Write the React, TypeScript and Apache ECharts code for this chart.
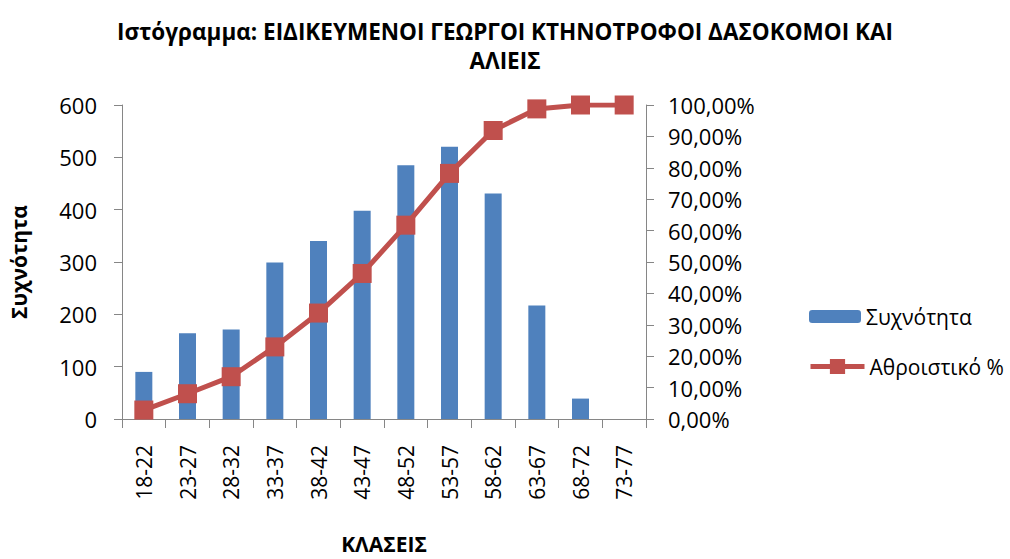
import React, { useEffect, useRef } from "react";
import * as echarts from "echarts";

const categories = ["18-22", "23-27", "28-32", "33-37", "38-42", "43-47", "48-52", "53-57", "58-62", "63-67", "68-72", "73-77"];
const frequency = [90, 164, 171, 299, 340, 398, 485, 520, 431, 217, 39, 0];
const cumulativePct = [2.85, 8.05, 13.47, 22.96, 33.74, 46.35, 61.73, 78.22, 91.88, 98.76, 100, 100];
const leftTicks = { min: 0, max: 600, interval: 100 };
const rightTicks = { min: 0, max: 100, interval: 10 };
const titleLines = ["Ιστόγραμμα: ΕΙΔΙΚΕΥΜΕΝΟΙ ΓΕΩΡΓΟΙ ΚΤΗΝΟΤΡΟΦΟΙ ΔΑΣΟΚΟΜΟΙ ΚΑΙ", "ΑΛΙΕΙΣ"];

const FONT = "'Open Sans', 'Noto Sans', sans-serif";

export default function App() {
  const ref = useRef<HTMLDivElement>(null);
  useEffect(() => {
    if (!ref.current) return;
    const chart = echarts.init(ref.current, null, { renderer: "svg" });
    const axisColor = "#868686";
    chart.setOption({
      animation: false,
      backgroundColor: "#ffffff",
      textStyle: { fontFamily: FONT },
      graphic: titleLines.map((t, i) => ({
        type: "text",
        x: 505,
        y: 31 + i * 29,
        style: {
          text: t,
          fontFamily: FONT,
          fontSize: 22.5,
          fontWeight: "bold",
          fill: "#000",
          align: "center",
          verticalAlign: "middle",
        },
      })),
      legend: [
        {
          data: ["Συχνότητα"],
          left: 804,
          top: 301,
          itemWidth: 52,
          itemHeight: 13,
          itemGap: 4,
          textStyle: { fontFamily: FONT, fontSize: 21, color: "#000" },
        },
        {
          data: ["Αθροιστικό %"],
          left: 803,
          top: 351,
          itemWidth: 54,
          itemHeight: 19,
          itemGap: 4,
          lineStyle: { width: 5 },
          textStyle: { fontFamily: FONT, fontSize: 21, color: "#000" },
        },
      ],
      grid: { left: 122, right: 364, top: 105, bottom: 133 },
      xAxis: {
        type: "category",
        data: categories,
        name: "ΚΛΑΣΕΙΣ",
        nameLocation: "middle",
        nameGap: 114,
        nameTextStyle: { fontFamily: FONT, fontSize: 21, fontWeight: "bold", color: "#000" },
        axisLine: { lineStyle: { color: axisColor, width: 1 } },
        axisTick: { show: true, length: 9, lineStyle: { color: axisColor } },
        axisLabel: { rotate: 90, margin: 26, fontFamily: FONT, fontSize: 21, color: "#000" },
      },
      yAxis: [
        {
          type: "value",
          ...leftTicks,
          name: "Συχνότητα",
          nameLocation: "middle",
          nameGap: 93,
          nameRotate: 90,
          nameTextStyle: { fontFamily: FONT, fontSize: 21, fontWeight: "bold", color: "#000" },
          axisLine: { show: true, lineStyle: { color: axisColor } },
          axisTick: { show: true, length: 8, lineStyle: { color: axisColor } },
          splitLine: { show: false },
          axisLabel: { margin: 25, fontFamily: FONT, fontSize: 22, color: "#000" },
        },
        {
          type: "value",
          ...rightTicks,
          position: "right",
          axisLine: { show: true, lineStyle: { color: axisColor } },
          axisTick: { show: true, length: 8, lineStyle: { color: axisColor } },
          splitLine: { show: false },
          axisLabel: {
            margin: 22,
            fontFamily: FONT,
            fontSize: 22,
            color: "#000",
            formatter: (v: number) => v.toFixed(2).replace(".", ",") + "%",
          },
        },
      ],
      series: [
        {
          name: "Συχνότητα",
          type: "bar",
          data: frequency,
          barWidth: 17,
          itemStyle: { color: "#4F81BD" },
          yAxisIndex: 0,
        },
        {
          name: "Αθροιστικό %",
          type: "line",
          data: cumulativePct,
          yAxisIndex: 1,
          symbol: "rect",
          symbolSize: 19,
          lineStyle: { color: "#C0504D", width: 5 },
          itemStyle: { color: "#C0504D" },
        },
      ],
    });
    return () => chart.dispose();
  }, []);
  return (
    <div
      ref={ref}
      style={{ position: "fixed", left: 0, top: 0, width: 1010, height: 559, background: "#fff" }}
    />
  );
}
